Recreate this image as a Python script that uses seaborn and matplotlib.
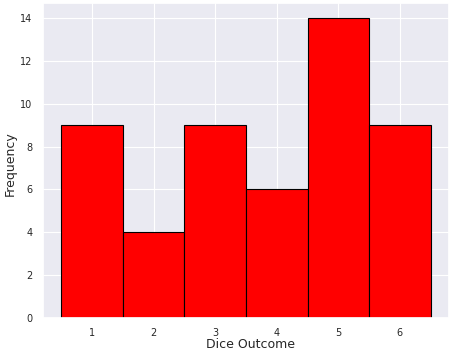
import matplotlib
matplotlib.use("Agg")
import matplotlib.pyplot as plt
import numpy as np
import pandas as pd
import seaborn as sns

outcomes = [1, 2, 3, 4, 5, 6]
counts = [9, 4, 9, 6, 14, 9]

sns.set_theme(style="darkgrid")
plt.rcParams["font.family"] = ["DejaVu Sans"]

df = pd.DataFrame({"outcome": np.repeat(outcomes, counts)})

fig = plt.figure(figsize=(4.5, 3.51), dpi=100)
ax = fig.add_axes([43 / 450, 33 / 351, 406 / 450, 315 / 351])

sns.histplot(data=df, x="outcome", discrete=True, color="red",
             edgecolor="black", linewidth=0.8, alpha=1.0, ax=ax)

ax.set_xticks(outcomes)
ax.set_ylim(0, 14.7)
ax.grid(linewidth=0.8)
ax.tick_params(labelsize=7, pad=1.5)
ax.tick_params(axis="x", pad=1)
ax.set_xlabel("Dice Outcome", fontsize=9)
ax.set_ylabel("Frequency", fontsize=9)
ax.xaxis.set_label_coords(0.51, -0.063)
ax.yaxis.set_label_coords(-0.064, 0.49)

fig.savefig("out.png", dpi=100)
